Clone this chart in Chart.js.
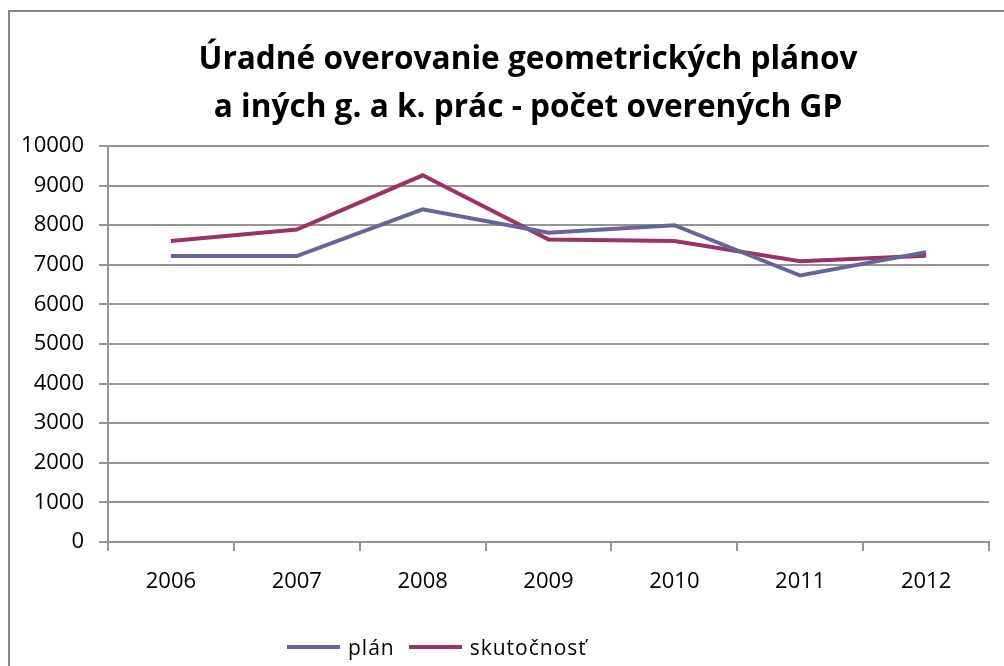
<!DOCTYPE html>
<html>
<head>
<meta charset="utf-8">
<script src="https://cdn.jsdelivr.net/npm/chart.js@4/dist/chart.umd.min.js"></script>
<style>
  html, body { margin: 0; padding: 0; background: #fff; }
  #wrap { position: relative; width: 1004px; height: 666px; overflow: hidden; }
  #frame { position: absolute; left: 8px; top: 10px; width: 1100px; height: 800px;
           border-left: 2px solid #868686; border-top: 2px solid #868686; }
  #chart { position: absolute; left: 0; top: 0; }
  #title { position: absolute; left: 128px; width: 800px; top: 33px; text-align: center;
           font-family: "Open Sans", sans-serif; font-weight: bold; font-size: 31.6px;
           line-height: 48px; color: #000; white-space: nowrap; }
  #legend { position: absolute; left: 287px; top: 633px; font-family: "Open Sans", sans-serif;
            font-size: 21px; color: #000; display: flex; align-items: center; letter-spacing: 1px; }
  #legend span.sw { display: inline-block; width: 53px; height: 4px; margin-right: 8px; }
  #legend span.lb { margin-right: 14px; }
</style>
</head>
<body>
<div id="wrap">
  <div id="frame"></div>
  <canvas id="chart" width="1004" height="666"></canvas>
  <div id="title"></div>
  <div id="legend"></div>
</div>
<script>
// Úradné overovanie GP – plán vs. skutočnosť
const titleLines = ["Úradné overovanie geometrických plánov", "a iných g. a k. prác - počet overených GP"];
const years = ["2006", "2007", "2008", "2009", "2010", "2011", "2012"];
const planValues = [7220, 7220, 8400, 7810, 8000, 6730, 7320];
const skutValues = [7600, 7890, 9260, 7640, 7600, 7090, 7230];
const seriesNames = ["plán", "skutočnosť"];
const seriesColors = ["#65659c", "#9c3366"];

const gridColor = "#959595";

const ctx = document.getElementById("chart").getContext("2d");

const chart = new Chart(ctx, {
  type: "line",
  data: {
    labels: years,
    datasets: [
      {
        label: seriesNames[0],
        data: planValues,
        borderColor: seriesColors[0],
        backgroundColor: seriesColors[0],
        borderWidth: 4,
        pointRadius: 0,
        tension: 0
      },
      {
        label: seriesNames[1],
        data: skutValues,
        borderColor: seriesColors[1],
        backgroundColor: seriesColors[1],
        borderWidth: 4,
        pointRadius: 0,
        tension: 0
      }
    ]
  },
  options: {
    responsive: false,
    animation: false,
    layout: { padding: { left: 10, right: 15, top: 146, bottom: 64 } },
    plugins: {
      legend: { display: false },
      tooltip: { enabled: false },
      title: { display: false }
    },
    scales: {
      x: {
        offset: true,
        grid: {
          offset: true,
          drawOnChartArea: false,
          drawTicks: true,
          tickLength: 9,
          color: gridColor,
          lineWidth: 2
        },
        border: { color: gridColor, width: 2 },
        ticks: {
          color: "#000",
          padding: 18,
          font: { family: "Open Sans", size: 22 }
        },
        afterFit: s => { s.height = 60; }
      },
      y: {
        min: 0,
        max: 10000,
        ticks: {
          stepSize: 1000,
          color: "#000",
          padding: 15,
          font: { family: "Open Sans", size: 22 },
          callback: v => String(v)
        },
        grid: {
          color: gridColor,
          lineWidth: 2,
          tickLength: 9
        },
        border: { color: gridColor, width: 2 },
        afterFit: s => { s.width = 98; }
      }
    }
  }
});

// nadpis ako HTML – v Exceli je centrovaný na celý rámček (širší ako obrázok)
const titleEl = document.getElementById("title");
titleEl.innerHTML = titleLines.map(t => "<div>" + t + "</div>").join("");

// legenda ako HTML (Excel ju má posunutú doľava)
const legendEl = document.getElementById("legend");
seriesNames.forEach((name, i) => {
  const sw = document.createElement("span");
  sw.className = "sw";
  sw.style.background = seriesColors[i];
  const lb = document.createElement("span");
  lb.className = "lb";
  lb.textContent = name;
  legendEl.appendChild(sw);
  legendEl.appendChild(lb);
});
</script>
</body>
</html>
